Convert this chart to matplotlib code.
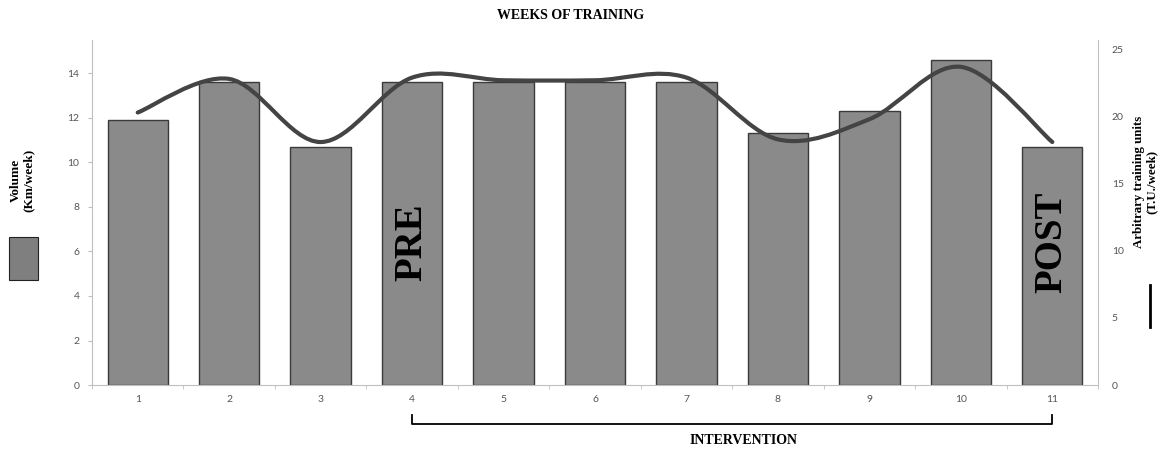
import matplotlib
matplotlib.use('Agg')
import matplotlib.pyplot as plt
from matplotlib.path import Path
from matplotlib.patches import PathPatch, Rectangle
import numpy as np

# Data
weeks = [1, 2, 3, 4, 5, 6, 7, 8, 9, 10, 11]
volume_km = [11.9, 13.6, 10.7, 13.6, 13.6, 13.6, 13.6, 11.3, 12.3, 14.6, 10.7]
training_units = [20.3, 22.8, 18.1, 22.9, 22.7, 22.7, 22.9, 18.3, 19.8, 23.7, 18.1]
left_ticks = [0, 2, 4, 6, 8, 10, 12, 14]
right_ticks = [0, 5, 10, 15, 20, 25]

serif = 'Liberation Serif'
tick_font = 'Lato'
spine_col = '#bfbfbf'
tick_col = '#555555'

fig = plt.figure(figsize=(11.69, 4.5), dpi=100)
ax = fig.add_axes([0.0787, 0.1444, 0.8606, 0.7667])

# Bars (volume)
ax.bar(weeks, volume_km, width=0.66, color='#8a8a8a', edgecolor='#3a3a3a',
       linewidth=1.0, zorder=2)
ax.set_xlim(0.5, 11.5)
ax.set_ylim(0, 15.5)
ax.set_yticks(left_ticks)
ax.set_xticks(weeks)
ax.set_xticks(np.arange(0.5, 11.6, 1.0), minor=True)
ax.tick_params(axis='x', which='major', length=0, pad=7, labelsize=7.5,
               labelcolor=tick_col)
ax.tick_params(axis='x', which='minor', length=3, color=spine_col)
ax.tick_params(axis='y', length=3, color=spine_col, labelsize=7.5,
               labelcolor=tick_col, pad=6)
for lab in ax.get_xticklabels() + ax.get_yticklabels():
    lab.set_fontfamily(tick_font)
ax.spines['top'].set_visible(False)
ax.spines['right'].set_visible(False)
ax.spines['left'].set_color(spine_col)
ax.spines['bottom'].set_color(spine_col)

# Smoothed line (training units) on the secondary axis
ax2 = ax.twinx()
ax2.set_ylim(0, 25.7)
ax2.set_yticks(right_ticks)
ax2.tick_params(axis='y', length=0, labelsize=7.5, labelcolor=tick_col, pad=10)
for lab in ax2.get_yticklabels():
    lab.set_fontfamily(tick_font)
for s in ['top', 'left', 'bottom']:
    ax2.spines[s].set_visible(False)
ax2.spines['right'].set_color(spine_col)

# Catmull-Rom style smoothing drawn as cubic Bezier segments
pts = np.column_stack([weeks, training_units]).astype(float)
verts = [tuple(pts[0])]
codes = [Path.MOVETO]
n = len(pts)
for i in range(n - 1):
    p0 = pts[i - 1] if i > 0 else pts[i]
    p1 = pts[i]
    p2 = pts[i + 1]
    p3 = pts[i + 2] if i + 2 < n else pts[i + 1]
    c1 = p1 + (p2 - p0) / 6.0
    c2 = p2 - (p3 - p1) / 6.0
    verts += [tuple(c1), tuple(c2), tuple(p2)]
    codes += [Path.CURVE4, Path.CURVE4, Path.CURVE4]
ax2.add_patch(PathPatch(Path(verts, codes), facecolor='none',
                        edgecolor='#444444', linewidth=3.0, zorder=3,
                        capstyle='round'))

# PRE / POST labels
ax.text(4, 6.4, 'PRE', rotation=90, ha='center', va='center',
        fontsize=28, fontweight='bold', family=serif, zorder=4)
ax.text(11, 6.4, 'POST', rotation=90, ha='center', va='center',
        fontsize=28, fontweight='bold', family=serif, zorder=4)

# Title
fig.text(0.488, 0.965, 'WEEKS OF TRAINING', ha='center', va='center',
         fontsize=10, fontweight='bold', family=serif)

# Left axis label and legend swatch
fig.text(0.019, 0.6, 'Volume\n(Km/week)', rotation=90, ha='center',
         va='center', fontsize=9.5, fontweight='bold', family=serif,
         linespacing=1.1)
fig.patches.append(Rectangle((0.0077, 0.378), 0.0248, 0.095,
                             transform=fig.transFigure, facecolor='#7f7f7f',
                             edgecolor='#222222', linewidth=0.8))

# Right axis label and legend line
fig.text(0.98, 0.595, 'Arbitrary training units\n(T.U./week)', rotation=90,
         ha='center', va='center', fontsize=9.3, fontweight='bold',
         family=serif, linespacing=1.1)
fig.add_artist(plt.Line2D([0.984, 0.984], [0.273, 0.367],
                          transform=fig.transFigure, color='black',
                          linewidth=2.0))

# Intervention bracket
bx0, bx1 = 4, 11
trans = ax.get_xaxis_transform()
ax.plot([bx0, bx0, bx1, bx1], [-0.088, -0.113, -0.113, -0.088],
        transform=trans, color='black', linewidth=1.3, clip_on=False)
ax.text((bx0 + bx1) / 2 + 0.12, -0.16, 'INTERVENTION', transform=trans,
        ha='center', va='center', fontsize=10, fontweight='bold', family=serif)

fig.savefig('out.png', dpi=100)
